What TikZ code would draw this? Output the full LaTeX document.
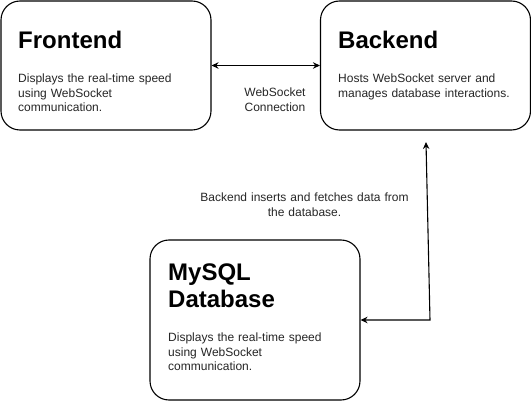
\documentclass[tikz,border=0pt]{standalone}
\usepackage{fontspec}
\setmainfont{Liberation Sans}
\usetikzlibrary{arrows.meta}
\begin{document}
\begin{tikzpicture}[x=1pt,y=-1pt,
  box/.style={draw=black,line width=1.1pt,rounded corners=19pt,fill=white,minimum width=#1,inner sep=0pt},
  ttl/.style={anchor=base west,inner sep=0pt,font=\fontsize{24}{27.7}\selectfont\bfseries,text width=180pt,align=left},
  body/.style={anchor=base west,inner sep=0pt,font=\fontsize{12}{14.5}\selectfont,text width=185pt,align=left,text=black!85},
  lbl/.style={anchor=base,inner sep=0pt,font=\fontsize{12}{15}\selectfont,align=center,text width=230pt,text=black!85},
  conn/.style={line width=1.1pt,{Stealth[length=7pt,width=6.5pt]}-{Stealth[length=7pt,width=6.5pt]}}
]
\useasboundingbox (0,0) rectangle (531,401);
% boxes
\node[box=210pt,minimum height=129pt] (front) at (106,65.5) {};
\node[box=210pt,minimum height=129pt] (back) at (425.5,65.5) {};
\node[box=210pt,minimum height=160pt] (db) at (255,320) {};
% texts
\node[ttl] (ft) at (18,49) {Frontend};
\node[body] (fb) at (18,83) {Displays the real-time speed\\using WebSocket\\communication.};
\node[ttl] (bt) at (338,49) {Backend};
\node[body] (bb) at (338,83) {Hosts WebSocket server and\\manages database interactions.};
\node[ttl] (dt) at (168,280) {MySQL\\Database};
\node[body] (dbb) at (168,341.5) {Displays the real-time speed\\using WebSocket\\communication.};
% connectors
\draw[conn] (front.east) -- (back.west);
\node[lbl] (wl) at (275,96.5) {WebSocket\\Connection};
\coordinate (btip) at (426,142);
\coordinate (bend) at (430,320);
\draw[conn] (btip) -- (bend) -- (db.east);
\node[lbl] (dl) at (304.5,202) {Backend inserts and fetches data from\\the database.};
\end{tikzpicture}
\end{document}
